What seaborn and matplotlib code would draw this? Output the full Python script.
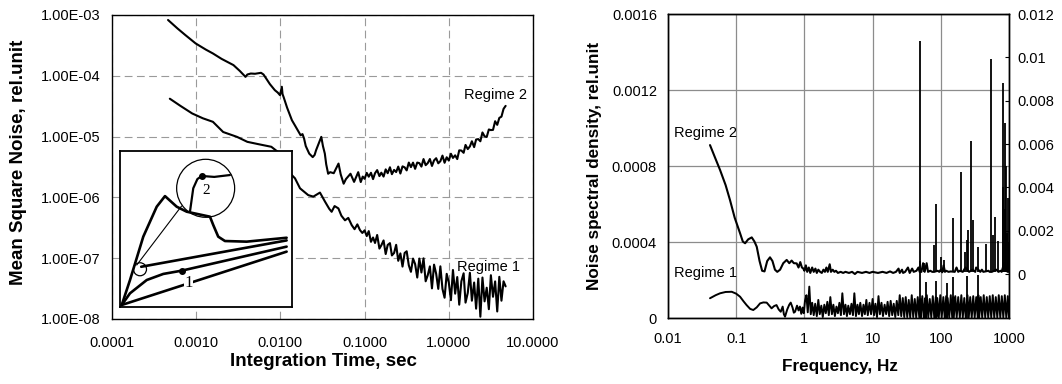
import matplotlib
matplotlib.use("Agg")
import matplotlib.pyplot as plt
from matplotlib.patches import Ellipse
from matplotlib.ticker import NullLocator
import seaborn as sns

# ---------------- Left panel: mean square noise vs integration time ----------------
tau_ticks = [1e-4, 1e-3, 1e-2, 1e-1, 1.0, 10.0]
tau_ticklabels = ['0.0001', '0.0010', '0.0100', '0.1000', '1.0000', '10.0000']
msn_ticks = [1e-8, 1e-7, 1e-6, 1e-5, 1e-4, 1e-3]
msn_ticklabels = ['1.00E-08', '1.00E-07', '1.00E-06', '1.00E-05', '1.00E-04', '1.00E-03']

tau_r2_head = [4.63e-4, 6.0e-4, 7.43e-4, 9.84e-4, 1.3e-3, 1.58e-3, 2.0e-3, 2.77e-3, 3.3e-3, 3.85e-3,
               4.05e-3, 4.45e-3, 5.0e-3, 5.89e-3, 6.3e-3, 6.79e-3, 7.5e-3, 8.59e-3, 9.3e-3, 9.89e-3,
               1.04e-2, 1.06e-2, 1.09e-2, 1.2e-2, 1.37e-2, 1.5e-2, 1.74e-2, 1.83e-2, 1.91e-2, 2.0e-2,
               2.2e-2, 2.42e-2, 2.55e-2, 2.65e-2, 3.06e-2, 3.2e-2, 3.37e-2, 3.5e-2, 3.69e-2, 3.9e-2,
               4.3e-2, 4.9e-2, 5.2e-2, 5.64e-2, 6.0e-2, 6.8e-2, 7.5e-2, 8.4e-2, 9.0e-2, 9.5e-2]
msn_r2_head = [8.28e-4, 6.0e-4, 4.68e-4, 3.41e-4, 2.7e-4, 2.33e-4, 1.9e-4, 1.5e-4, 1.2e-4, 9.6e-5,
               1.05e-4, 1.09e-4, 1.08e-4, 1.12e-4, 1.05e-4, 9.0e-5, 7.3e-5, 5.8e-5, 5.3e-5, 4.8e-5,
               6.6e-5, 5.0e-5, 4.5e-5, 3.0e-5, 1.86e-5, 1.5e-5, 1.05e-5, 1.1e-5, 9.3e-6, 7.0e-6,
               5.25e-6, 4.6e-6, 5.0e-6, 5.95e-6, 9.9e-6, 7.0e-6, 5.25e-6, 3.5e-6, 2.45e-6, 2.6e-6,
               2.5e-6, 3.6e-6, 2.4e-6, 1.68e-6, 2.0e-6, 2.45e-6, 1.8e-6, 2.6e-6, 1.79e-6, 2.2e-6]

tau_r1_head = [4.86e-4, 6.5e-4, 8.97e-4, 1.2e-3, 1.58e-3, 2.09e-3, 3.05e-3, 4.05e-3, 5.5e-3, 7.8e-3,
               9.5e-3, 1.15e-2, 1.3e-2, 1.49e-2, 1.71e-2, 2.14e-2, 2.46e-2, 2.95e-2, 3.39e-2, 3.8e-2,
               4.06e-2, 4.4e-2, 4.88e-2, 5.3e-2, 5.85e-2, 6.4e-2, 7.03e-2, 7.6e-2, 8.2e-2, 8.81e-2, 9.4e-2]
msn_r1_head = [4.2e-5, 3.2e-5, 2.4e-5, 2.0e-5, 1.75e-5, 1.19e-5, 9.9e-6, 8.2e-6, 7.5e-6, 6.8e-6,
               5.5e-6, 3.5e-6, 2.5e-6, 2.06e-6, 1.41e-6, 1.09e-6, 1.03e-6, 1.2e-6, 8.5e-7, 6.5e-7,
               5.8e-7, 7.2e-7, 6.6e-7, 5.0e-7, 4.2e-7, 4.6e-7, 3.5e-7, 3.0e-7, 3.6e-7, 2.9e-7, 2.6e-7]

tau_tail = [0.100, 0.106, 0.112, 0.119, 0.126, 0.133, 0.141, 0.150, 0.158, 0.168,
            0.178, 0.188, 0.200, 0.211, 0.224, 0.237, 0.251, 0.266, 0.282, 0.299,
            0.316, 0.335, 0.355, 0.376, 0.398, 0.422, 0.447, 0.473, 0.501, 0.531,
            0.562, 0.596, 0.631, 0.668, 0.708, 0.750, 0.794, 0.841, 0.891, 0.944,
            1.00, 1.06, 1.12, 1.19, 1.26, 1.33, 1.41, 1.50, 1.58, 1.68,
            1.78, 1.88, 2.00, 2.11, 2.24, 2.37, 2.51, 2.66, 2.82, 2.99,
            3.16, 3.35, 3.55, 3.76, 3.98, 4.22, 4.47, 4.73]
msn_r2_tail = [2.02e-6, 2.53e-6, 2.19e-6, 2.54e-6, 2.0e-6, 2.5e-6, 2.81e-6, 2.24e-6, 2.55e-6, 2.2e-6,
               2.89e-6, 2.5e-6, 3.13e-6, 2.41e-6, 2.83e-6, 2.61e-6, 3.21e-6, 2.47e-6, 3.24e-6, 3.12e-6,
               2.78e-6, 3.74e-6, 3.15e-6, 3.73e-6, 2.95e-6, 3.74e-6, 3.66e-6, 3.21e-6, 4.27e-6, 3.39e-6,
               3.66e-6, 4.28e-6, 3.29e-6, 4.06e-6, 4.41e-6, 3.64e-6, 3.94e-6, 4.87e-6, 3.71e-6, 4.57e-6,
               4.03e-6, 5.22e-6, 4.46e-6, 4.92e-6, 4.27e-6, 5.94e-6, 5.9e-6, 5.41e-6, 7.29e-6, 6.23e-6,
               6.89e-6, 8.38e-6, 6.71e-6, 8.96e-6, 9.1e-6, 8.38e-6, 1.17e-5, 1.01e-5, 9.86e-6, 1.31e-5,
               1.28e-5, 1.29e-5, 1.79e-5, 1.56e-5, 2.03e-5, 2.13e-5, 2.86e-5, 3.2e-5]
msn_r1_tail = [2.87e-7, 2.31e-7, 2.79e-7, 1.86e-7, 2.19e-7, 1.78e-7, 2.41e-7, 1.44e-7, 1.63e-7, 1.96e-7,
               1.17e-7, 1.65e-7, 1.77e-7, 1.11e-7, 1.22e-7, 1.66e-7, 9.06e-8, 1.2e-7, 7.28e-8, 1.22e-7,
               1.3e-7, 7.64e-8, 5.97e-8, 9.86e-8, 8.02e-8, 4.81e-8, 9.86e-8, 5.82e-8, 9.95e-8, 4.17e-8,
               5.24e-8, 7.33e-8, 3.19e-8, 7.83e-8, 5.53e-8, 3.13e-8, 7.35e-8, 3.12e-8, 2.24e-8, 5.53e-8,
               3.98e-8, 2.04e-8, 6.4e-8, 2.61e-8, 4.9e-8, 1.72e-8, 4.17e-8, 5.65e-8, 1.86e-8, 2.69e-8,
               5.75e-8, 2.0e-8, 3.98e-8, 1.48e-8, 4.61e-8, 1.09e-8, 4.81e-8, 1.95e-8, 3.27e-8, 1.45e-8,
               5.25e-8, 2.32e-8, 4.15e-8, 1.33e-8, 4.94e-8, 2.0e-8, 4.17e-8, 3.44e-8]

left_labels = ['Regime 2', 'Regime 1']
left_label_x = [3.54, 3.0]
left_label_y = [4.8e-5, 7.2e-8]

# Inset schematic (inset-axes units 0..1)
ins_c2_u = [0.013, 0.061, 0.138, 0.216, 0.264, 0.332, 0.39, 0.525, 0.544, 0.573, 0.612, 0.738, 0.97]
ins_c2_v = [0.011, 0.171, 0.449, 0.641, 0.709, 0.641, 0.609, 0.577, 0.524, 0.449, 0.421, 0.417, 0.442]
ins_a_u = [0.126, 0.97]
ins_a_v = [0.256, 0.425]
ins_c3_u = [0.013, 0.061, 0.158, 0.254, 0.361, 0.97]
ins_c3_v = [0.011, 0.086, 0.171, 0.21, 0.231, 0.385]
ins_c4_u = [0.013, 0.97]
ins_c4_v = [0.011, 0.353]
ins_thin_u = [0.10, 0.36]
ins_thin_v = [0.267, 0.645]
ins_zoom_u = [0.409, 0.428, 0.452, 0.477, 0.55, 0.641]
ins_zoom_v = [0.609, 0.759, 0.818, 0.838, 0.832, 0.844]
ins_dots_u = [0.361, 0.477]
ins_dots_v = [0.231, 0.838]

# ---------------- Right panel: noise spectral density ----------------
freq_ticks = [0.01, 0.1, 1, 10, 100, 1000]
freq_ticklabels = ['0.01', '0.1', '1', '10', '100', '1000']
psd_ticks = [0, 0.0004, 0.0008, 0.0012, 0.0016]
psd_ticklabels = ['0', '0.0004', '0.0008', '0.0012', '0.0016']
psd2_ticks = [0, 0.002, 0.004, 0.006, 0.008, 0.01, 0.012]
psd2_ticklabels = ['0', '0.002', '0.004', '0.006', '0.008', '0.01', '0.012']

# Regime 2 (right-hand axis)
freq_r2_a = [0.0413, 0.05, 0.058, 0.07, 0.081, 0.095, 0.114, 0.125, 0.135, 0.15,
             0.169, 0.185, 0.2, 0.22, 0.24, 0.26, 0.285, 0.313, 0.34, 0.37,
             0.4, 0.44, 0.49, 0.55, 0.6, 0.65, 0.7, 0.77, 0.82, 0.87, 0.92, 0.96]
psd_r2_a = [0.00595, 0.0053, 0.0048, 0.0041, 0.00342, 0.0026, 0.00188, 0.0015, 0.00142, 0.0016,
            0.00169, 0.0015, 0.00126, 0.0006, 0.00015, 0.00012, 0.0006, 0.00077, 0.0006, 0.0002,
            0.0001, 0.0002, 0.0005, 0.00065, 0.0005, 0.00062, 0.0005, 0.00049, 0.0003, 0.00055, 0.0003, 0.00026]
freq_r2_b = [1.0, 1.05, 1.1, 1.16, 1.22, 1.3, 1.37, 1.45, 1.52, 1.6,
             1.7, 1.8, 1.9, 2.0, 2.1, 2.2, 2.35, 2.45, 2.6, 2.75,
             2.9, 3.1, 3.4, 3.7, 4.0, 4.5, 5.0, 5.5, 6.0, 7.0,
             8.0, 9.0, 10, 12, 14, 16, 18, 20, 22, 24,
             25, 27, 28, 30, 33, 35, 38, 40, 44, 47, 49]
psd_r2_b = [0.00015, 0.0004, 0.0001, 0.0003, 0.00005, 0.0003, 0.0001, 0.00025, 0.00005, 0.0002,
            0.0001, 0.00005, 0.0002, 0.0001, 0.0003, 0.0001, 0.00045, 0.0001, 0.0002, 0.0001,
            0.00015, 0.00005, 0.0001, 0.00005, 0.0001, 0.00005, 0.0001, 0.0, 0.0001, 0.00005,
            0.0001, 0.00005, 0.0001, 0.00005, 0.0001, 0.00005, 0.00012, 0.00005, 0.0001, 0.00025,
            0.00005, 0.0002, 0.00005, 0.0001, 0.0003, 0.00005, 0.00025, 0.0001, 0.00015, 0.0003, 0.0001]
freq_r2_c = [52, 55, 58, 62, 65, 70, 75, 80, 90, 95,
             100, 105, 110, 115, 120, 130, 140, 160, 170, 180,
             190, 210, 230, 260, 290, 320, 330, 380, 400, 420,
             500, 520, 560, 650, 700, 750, 780, 850, 900, 950, 980, 1000]
psd_r2_c = [0.0001, 0.0005, 0.0001, 0.0005, 0.0001, 0.00015, 0.0001, 0.0001, 0.00015, 0.0001,
            0.0002, 0.00008, 0.0004, 0.0001, 0.00015, 0.0001, 0.00012, 0.0001, 0.0003, 0.0001,
            0.00015, 0.0001, 0.0003, 0.0001, 0.0002, 0.0001, 0.0003, 0.0001, 0.0002, 0.0001,
            0.00015, 0.0001, 0.0001, 0.0002, 0.0001, 0.00015, 0.0001, 0.0005, 0.0003, 0.0001, 0.0006, 0.0001]
spike_r2_freq = [50, 57, 80, 85, 100, 110, 152, 198, 226, 240, 247, 277, 300, 355, 465,
                 545, 590, 623, 683, 808, 830, 860, 883, 910, 944, 970, 990]
spike_r2_peak = [0.01075, 0.0005, 0.00134, 0.00322, 0.0008, 0.00065, 0.00257, 0.00472, 0.00103, 0.00157,
                 0.00203, 0.00615, 0.00249, 0.00126, 0.00138, 0.00992, 0.0018, 0.00264, 0.00154, 0.0088,
                 0.004, 0.003, 0.00698, 0.005, 0.00188, 0.0035, 0.0015]
spike_r2_base = 0.0001

# Regime 1 (left-hand axis)
freq_r1_a = [0.0413, 0.05, 0.058, 0.07, 0.086, 0.1, 0.114, 0.128, 0.142, 0.16,
             0.178, 0.2, 0.224, 0.25, 0.28, 0.31, 0.33, 0.36, 0.39, 0.42,
             0.45, 0.48, 0.5, 0.52, 0.56, 0.6, 0.63, 0.67, 0.7, 0.73,
             0.78, 0.82, 0.86, 0.9, 0.94, 0.98, 1.02, 1.07]
psd_r1_a = [1.04e-4, 1.2e-4, 1.3e-4, 1.37e-4, 1.38e-4, 1.28e-4, 1.12e-4, 8.8e-5, 6.8e-5, 4.8e-5,
            4.2e-5, 5.6e-5, 7.7e-5, 8.2e-5, 8.1e-5, 6.2e-5, 5.1e-5, 6.3e-5, 6.8e-5, 4.5e-5,
            3.3e-5, 6.0e-5, 2.0e-5, 7e-6, 4.5e-5, 7.0e-5, 8.1e-5, 5.5e-5, 2.8e-5, 3.3e-5,
            6.5e-5, 4.0e-5, 6.0e-5, 2.2e-5, 5.5e-5, 2.5e-5, 9.0e-5, 1.2e-4]
freq_r1_b = [1.12, 1.18, 1.24, 1.3, 1.37, 1.44, 1.52, 1.6, 1.68, 1.77,
             1.86, 1.96, 2.06, 2.17, 2.28, 2.4, 2.53, 2.66, 2.8, 2.95,
             3.1, 3.26, 3.43, 3.6, 3.8, 4.0, 4.2, 4.4, 4.65, 4.9,
             5.15, 5.4, 5.7, 6.0, 6.3, 6.6, 7.0, 7.35, 7.7, 8.1,
             8.5, 9.0, 9.5, 10.0]
psd_r1_b = [3.0e-5, 1.65e-4, 2.0e-5, 8.0e-5, 1.5e-5, 7.5e-5, 1.0e-5, 9.5e-5, 2.0e-5, 6.5e-5,
            5e-6, 7.0e-5, 2.5e-5, 8.5e-5, 1.5e-5, 1.1e-4, 2.0e-5, 7.0e-5, 1.0e-5, 6.0e-5,
            2.5e-5, 8.0e-5, 1.5e-5, 1.3e-4, 2.0e-5, 7.0e-5, 1.0e-5, 6.5e-5, 2.0e-5, 7.5e-5,
            1.5e-5, 1.3e-4, 1.0e-5, 7.0e-5, 2.0e-5, 8.0e-5, 1.0e-5, 7.0e-5, 2.0e-5, 9.5e-5,
            1.5e-5, 8.0e-5, 2.0e-5, 1.0e-4]
freq_r1_c = [10.5, 11, 11.6, 12.2, 12.8, 13.5, 14.2, 15, 15.8, 16.6,
             17.5, 18.4, 19.4, 20.4, 21.5, 22.6, 23.8, 25, 26.3, 27.7, 29.1]
psd_r1_c = [1.5e-5, 7.5e-5, 5e-6, 1.15e-4, 2.0e-5, 8.0e-5, 1.0e-5, 7.0e-5, 2.0e-5, 8.5e-5,
            1.0e-5, 9.0e-5, 1.5e-5, 7.5e-5, 5e-6, 9.0e-5, 1.5e-5, 1.2e-4, 1.0e-5, 1.05e-4, 5e-6]
freq_r1_d = [30.6, 32.2, 33.9, 35.6, 37.5, 39.4, 41.5, 43.6, 45.9, 48.3,
             50, 50.8, 53.5, 56.2, 59.2, 60, 62.3, 65.5, 68.9, 72.5,
             76.3, 80.2, 84.4, 86, 88.8, 93.4, 98.3, 103, 109, 114,
             120, 122, 126, 133, 140, 147, 152, 155, 163, 171,
             180, 190, 200, 210, 221, 232, 246, 257, 270, 284,
             299, 314, 331, 348, 355, 366, 385, 405, 426, 448,
             472, 496, 522, 549, 578, 608, 640, 673, 708, 745,
             784, 825, 868, 913, 960, 1000]
psd_r1_d = [1.1e-4, 5e-6, 9.5e-5, 3e-6, 1.2e-4, 5e-6, 1.0e-4, 2e-6, 1.1e-4, 4e-6,
            1.0e-4, 3e-6, 1.15e-4, 2e-6, 1.05e-4, 3e-6, 1.2e-4, 2e-6, 1.0e-4, 4e-6,
            1.15e-4, 2e-6, 1.1e-4, 3e-6, 1.05e-4, 2e-6, 1.2e-4, 3e-6, 1.1e-4, 2e-6,
            1.15e-4, 3e-6, 1.05e-4, 2e-6, 1.2e-4, 3e-6, 1.1e-4, 2e-6, 1.15e-4, 3e-6,
            1.1e-4, 2e-6, 1.2e-4, 3e-6, 1.05e-4, 2e-6, 1.2e-4, 3e-6, 1.1e-4, 2e-6,
            1.15e-4, 3e-6, 1.1e-4, 2e-6, 1.2e-4, 3e-6, 1.1e-4, 2e-6, 1.2e-4, 3e-6,
            1.1e-4, 2e-6, 1.15e-4, 3e-6, 1.2e-4, 2e-6, 1.1e-4, 3e-6, 1.2e-4, 2e-6,
            1.15e-4, 3e-6, 1.2e-4, 2e-6, 1.15e-4, 3e-6]
spike_r1_freq = [50, 60, 86, 122, 152, 246, 355]
spike_r1_peak = [3.0e-4, 1.9e-4, 1.95e-4, 1.83e-4, 2.17e-4, 2.2e-4, 2.26e-4]

right_labels = ['Regime 2', 'Regime 1']
right_label_x = [0.0349, 0.0349]
right_label_y = [9.74e-4, 2.37e-4]

# ---------------- Figure ----------------
sns.set_style("white")
plt.rcParams['font.family'] = ['Liberation Sans', 'DejaVu Sans']
plt.rcParams.update({'text.color': 'black', 'axes.labelcolor': 'black',
                     'xtick.color': 'black', 'ytick.color': 'black'})

W, H = 1062, 384
fig = plt.figure(figsize=(W / 100, H / 100), dpi=100)

LW = 1.5
TICK_FS = 10.5
GRID_C = '#9a9a9a'

# Left panel
ax1 = fig.add_axes([112 / W, 1 - 319 / H, 421 / W, 304 / H])
ax1.set_xscale('log')
ax1.set_yscale('log')
sns.lineplot(x=tau_r2_head + tau_tail, y=msn_r2_head + msn_r2_tail, ax=ax1,
             color='black', linewidth=LW, estimator=None, sort=False)
sns.lineplot(x=tau_r1_head + tau_tail, y=msn_r1_head + msn_r1_tail, ax=ax1,
             color='black', linewidth=LW, estimator=None, sort=False)
ax1.set_xlim(1e-4, 10)
ax1.set_ylim(1e-8, 1e-3)
ax1.set_xticks(tau_ticks)
ax1.set_xticklabels(tau_ticklabels)
ax1.set_yticks(msn_ticks)
ax1.set_yticklabels(msn_ticklabels)
ax1.xaxis.set_minor_locator(NullLocator())
ax1.yaxis.set_minor_locator(NullLocator())
ax1.grid(True, which='major', color=GRID_C, lw=0.8, ls=(0, (7, 4)))
ax1.tick_params(axis='x', length=0, pad=12, labelsize=TICK_FS)
ax1.tick_params(axis='y', length=3, width=0.8, direction='out', pad=5, labelsize=TICK_FS)
ax1.set_xlabel('')
ax1.set_ylabel('')
for s in ax1.spines.values():
    s.set_color('black')
    s.set_linewidth(1.0)
for txt, xx, yy in zip(left_labels, left_label_x, left_label_y):
    ax1.text(xx, yy, txt, ha='center', va='center', fontsize=TICK_FS)

# Inset schematic
axi = fig.add_axes([119.5 / W, 1 - 306.7 / H, 172.3 / W, 156 / H])
axi.set_facecolor('white')
axi.set_xlim(0, 1)
axi.set_ylim(0, 1)
axi.set_xticks([])
axi.set_yticks([])
for s in axi.spines.values():
    s.set_color('black')
    s.set_linewidth(1.3)
sns.lineplot(x=ins_c2_u, y=ins_c2_v, ax=axi, color='black', linewidth=1.9, estimator=None, sort=False)
sns.lineplot(x=ins_a_u, y=ins_a_v, ax=axi, color='black', linewidth=1.9, estimator=None, sort=False)
sns.lineplot(x=ins_c3_u, y=ins_c3_v, ax=axi, color='black', linewidth=1.9, estimator=None, sort=False)
sns.lineplot(x=ins_c4_u, y=ins_c4_v, ax=axi, color='black', linewidth=1.9, estimator=None, sort=False)
sns.lineplot(x=ins_thin_u, y=ins_thin_v, ax=axi, color='black', linewidth=0.8, estimator=None, sort=False)
sns.lineplot(x=ins_zoom_u, y=ins_zoom_v, ax=axi, color='black', linewidth=1.6, estimator=None, sort=False)
axi.scatter(ins_dots_u, ins_dots_v, s=16, color='black', zorder=5)
axi.add_patch(Ellipse((0.5, 0.759), 2 * 29 / 172.3, 2 * 29 / 156, fill=False, ec='black', lw=0.9))
axi.add_patch(Ellipse((0.119, 0.24), 2 * 6.5 / 172.3, 2 * 6.5 / 156, fill=False, ec='black', lw=0.9))
axi.text(0.502, 0.744, '2', ha='center', va='center', fontsize=11, family='Liberation Serif')
axi.text(0.40, 0.152, '1', ha='center', va='center', fontsize=12, family='Liberation Serif',
         bbox=dict(facecolor='white', edgecolor='none', pad=0.3))
axi.set_xlabel('')
axi.set_ylabel('')

# Right panel
ax2 = fig.add_axes([668 / W, 1 - 318 / H, 341 / W, 304 / H])
ax2.set_xscale('log')
sns.lineplot(x=freq_r1_a + freq_r1_b + freq_r1_c + freq_r1_d,
             y=psd_r1_a + psd_r1_b + psd_r1_c + psd_r1_d, ax=ax2,
             color='black', linewidth=1.4, estimator=None, sort=False)
ax2.vlines(spike_r1_freq, 0, spike_r1_peak, color='black', lw=1.3)
ax2.set_xlim(0.01, 1000)
ax2.set_ylim(0, 0.0016)
ax2.set_xticks(freq_ticks)
ax2.set_xticklabels(freq_ticklabels)
ax2.set_yticks(psd_ticks)
ax2.set_yticklabels(psd_ticklabels)
ax2.xaxis.set_minor_locator(NullLocator())
ax2.grid(True, which='major', color='#8c8c8c', lw=0.9, ls='-')
ax2.tick_params(axis='x', length=0, pad=10, labelsize=TICK_FS)
ax2.tick_params(axis='y', length=0, pad=8, labelsize=TICK_FS)
ax2.set_xlabel('')
ax2.set_ylabel('')
for txt, xx, yy in zip(right_labels, right_label_x, right_label_y):
    ax2.text(xx, yy, txt, ha='center', va='center', fontsize=TICK_FS)

ax2r = ax2.twinx()
sns.lineplot(x=freq_r2_a + freq_r2_b + freq_r2_c, y=psd_r2_a + psd_r2_b + psd_r2_c, ax=ax2r,
             color='black', linewidth=1.5, estimator=None, sort=False)
ax2r.vlines(spike_r2_freq, spike_r2_base, spike_r2_peak, color='black', lw=1.3)
ax2r.set_xlim(0.01, 1000)
ax2r.set_ylim(-0.00203, 0.012)
ax2r.set_yticks(psd2_ticks)
ax2r.set_yticklabels(psd2_ticklabels)
ax2r.yaxis.set_minor_locator(NullLocator())
ax2r.grid(False)
ax2r.tick_params(axis='y', length=3, width=0.8, direction='in', pad=6, labelsize=TICK_FS)
ax2r.set_xlabel('')
ax2r.set_ylabel('')
for ax in (ax2, ax2r):
    for s in ax.spines.values():
        s.set_color('black')
        s.set_linewidth(1.0)

# Axis titles
fig.text(19 / W, 1 - 162 / H, 'Mean Square Noise, rel.unit', rotation=90, ha='center', va='center',
         fontsize=13.5, fontweight='bold')
fig.text(323 / W, 1 - 362 / H, 'Integration Time, sec', ha='center', va='center',
         fontsize=13.5, fontweight='bold')
fig.text(595 / W, 1 - 166 / H, 'Noise spectral density, rel.unit', rotation=90, ha='center', va='center',
         fontsize=12.3, fontweight='bold')
fig.text(840 / W, 1 - 366 / H, 'Frequency, Hz', ha='center', va='center',
         fontsize=12.3, fontweight='bold')

fig.savefig('out.png', dpi=100)
